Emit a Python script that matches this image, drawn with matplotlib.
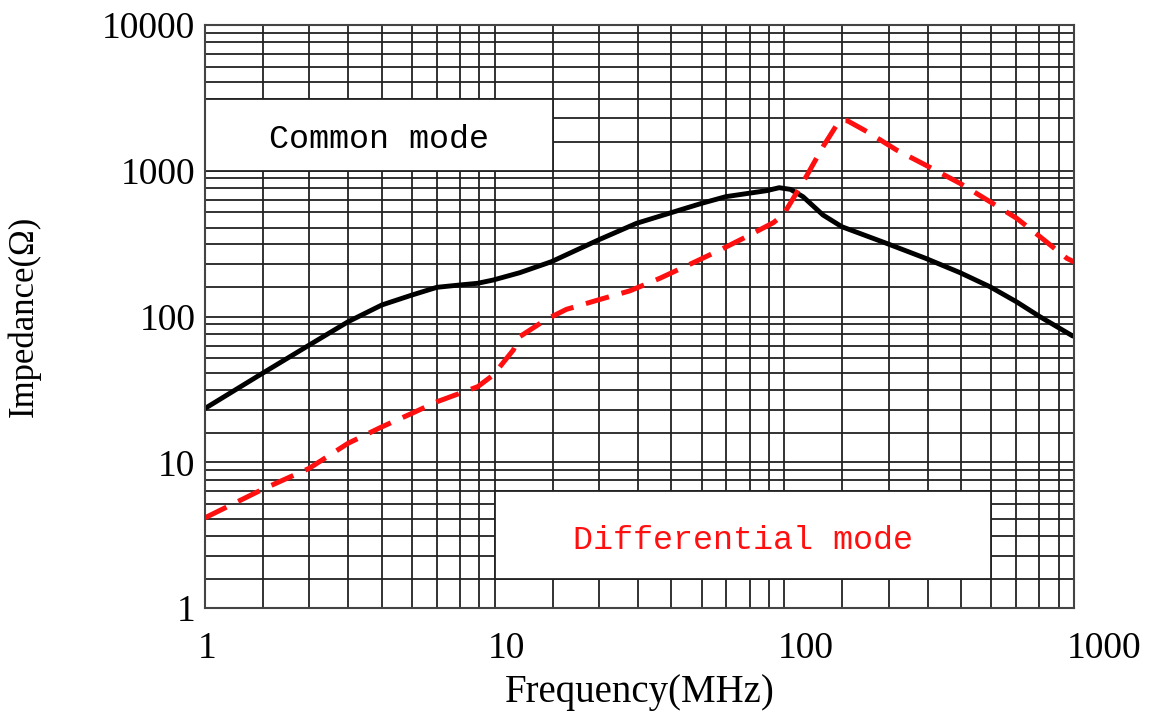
import numpy as np
import matplotlib
matplotlib.use("Agg")
import matplotlib.pyplot as plt
import matplotlib.transforms as mtransforms
from matplotlib.patches import Rectangle

# common mode impedance (black solid)
cm_freq = [1.0, 1.58, 2.29, 3.12, 4.08, 5.19, 6.32, 7.59, 8.74, 9.89, 12.2, 15.7,
           22.8, 30.9, 40.6, 51.9, 62.8, 75.2, 86.9, 96.0, 105.0, 116.0, 136.0,
           158.0, 182.0, 225.0, 307.0, 404.0, 513.0, 634.0, 763.0, 990.0]
cm_imp = [23.4, 40.8, 63.7, 92.1, 120.0, 140.5, 158.6, 164.6, 169.0, 178.0, 199.7,
          237.7, 335.0, 436.0, 515.0, 598.0, 664.0, 700.0, 730.0, 765.0, 745.0,
          664.0, 497.0, 413.0, 372.0, 318.0, 251.0, 200.0, 160.0, 126.0, 99.7, 73.5]

# differential mode impedance (red dashed)
dm_freq = [1.0, 1.58, 2.29, 3.12, 4.08, 5.19, 6.32, 8.74, 9.89, 11.6, 12.2, 15.1,
           17.7, 22.8, 29.3, 37.2, 48.5, 60.0, 74.1, 91.6, 99.1, 110.0, 119.0,
           136.0, 155.0, 165.0, 193.0, 244.0, 307.0, 404.0, 513.0, 634.0, 763.0,
           944.0, 1000.0]
dm_imp = [4.16, 6.52, 9.09, 13.5, 17.5, 21.7, 26.0, 33.0, 39.7, 58.9, 72.7, 95.7,
          112.0, 130.0, 150.0, 183.0, 234.0, 286.0, 353.0, 440.0, 497.0, 700.0,
          911.0, 1462.0, 2205.0, 2205.0, 1854.0, 1388.0, 1095.0, 820.0, 613.0,
          472.0, 353.0, 251.0, 237.0]

x_ticks = [1, 10, 100, 1000]
x_labels = ["1", "10", "100", "1000"]
y_ticks = [1, 10, 100, 1000, 10000]
y_labels = ["1", "10", "100", "1000", "10000"]

# the printed grid is not evenly logarithmic: positions inside each decade
grid_frac = [0.2, 0.36, 0.495, 0.61, 0.715, 0.80, 0.88, 0.947]

grid_col = "#222222"

fig = plt.figure(figsize=(11.49, 7.16), dpi=100)
ax = fig.add_axes([0.1784, 0.1508, 0.7563, 0.8143])
ax.set_xscale("log")
ax.set_yscale("log")
ax.set_xlim(1, 1000)
ax.set_ylim(1, 10000)

# grid lines
for d in range(3):
    for fr in [0.0] + grid_frac:
        ax.axvline(10 ** (d + fr), color=grid_col, lw=1.3, zorder=1)
for d in range(4):
    for fr in [0.0] + grid_frac:
        ax.axhline(10 ** (d + fr), color=grid_col, lw=1.3, zorder=1)

# white label boxes
cm_box = (1.0, 10 ** 1.2, 1000.0, 10 ** 3.495)
dm_box = (10.0, 10 ** 2.715, 10 ** 0.2, 10 ** 0.8)
for x0, x1, y0, y1 in (cm_box, dm_box):
    ax.add_patch(Rectangle((x0, y0), x1 - x0, y1 - y0, facecolor="white",
                           edgecolor=grid_col, lw=1.3, zorder=2))

ax.text(np.sqrt(cm_box[0] * cm_box[1]), np.sqrt(cm_box[2] * cm_box[3]) * 0.92,
        "Common mode", ha="center", va="center", fontsize=24,
        family="Liberation Mono", color="black", zorder=3)
ax.text(np.sqrt(dm_box[0] * dm_box[1]), np.sqrt(dm_box[2] * dm_box[3]) * 0.92,
        "Differential mode", ha="center", va="center", fontsize=24,
        family="Liberation Mono", color="#ff1010", zorder=3)

ax.plot(cm_freq, cm_imp, color="black", lw=3.5, solid_capstyle="round",
        solid_joinstyle="round", zorder=4)
ax.plot(dm_freq, dm_imp, color="#ff1010", lw=3.6, dashes=(4.8, 2.6), zorder=4)

ax.set_xticks(x_ticks)
ax.set_xticklabels(x_labels)
ax.set_yticks(y_ticks)
ax.set_yticklabels(y_labels)
ax.xaxis.set_minor_locator(matplotlib.ticker.NullLocator())
ax.yaxis.set_minor_locator(matplotlib.ticker.NullLocator())
ax.tick_params(axis="both", length=0, labelsize=27)
ax.tick_params(axis="x", pad=17)
ax.tick_params(axis="y", pad=7)
for lab in ax.get_xticklabels() + ax.get_yticklabels():
    lab.set_family("Liberation Serif")
shift = mtransforms.ScaledTranslation(-7 / 100, 0, fig.dpi_scale_trans)
for lab in ax.get_xticklabels():
    lab.set_ha("left")
    lab.set_transform(lab.get_transform() + shift)

for sp in ax.spines.values():
    sp.set_color("#444444")
    sp.set_linewidth(1.5)
    sp.set_zorder(5)

ax.set_xlabel("Frequency(MHz)", fontsize=28, family="Liberation Serif", labelpad=6)
ax.set_ylabel("Impedance(Ω)", fontsize=25, family="Liberation Serif", labelpad=44)

fig.savefig("out.png", dpi=100)
